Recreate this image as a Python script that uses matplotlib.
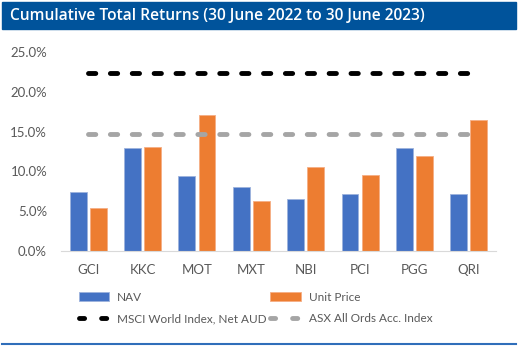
import matplotlib.pyplot as plt
import numpy as np
from matplotlib.patches import Rectangle
from matplotlib.lines import Line2D
from matplotlib.ticker import PercentFormatter

# データ
funds = ["GCI", "KKC", "MOT", "MXT", "NBI", "PCI", "PGG", "QRI"]
nav = [7.4, 12.9, 9.4, 8.1, 6.5, 7.1, 12.9, 7.2]
unit_price = [5.4, 13.1, 17.1, 6.3, 10.5, 9.6, 11.9, 16.4]
msci = 22.4
asx = 14.75
title = "Cumulative Total Returns (30 June 2022 to 30 June 2023)"

blue = "#4472C4"
orange = "#ED7D31"
grey_line = "#A5A5A5"
grey_txt = "#595959"

plt.rcParams["font.family"] = ["Lato", "DejaVu Sans"]

fig = plt.figure(figsize=(5.19, 3.48), dpi=100)
W, H = 519, 348

# タイトルバー
fig.patches.append(Rectangle((2 / W, 1 - 29 / H), 514 / W, 27 / H,
                             transform=fig.transFigure, color="#00539B", zorder=0))
fig.text(10 / W, 1 - 16 / H, title, color="white", fontsize=11.2,
         fontweight="semibold", family=["Open Sans", "DejaVu Sans"],
         va="center", ha="left")
# 下の線
fig.add_artist(Line2D([2 / W, 516 / W], [1 - 344 / H, 1 - 344 / H],
                      transform=fig.transFigure, color="#2F6EBA", lw=1.5))

ax = fig.add_axes([61 / W, 1 - 251 / H, 435 / W, 199 / H])
x = np.arange(len(funds))
bw = 0.31
b1 = ax.bar(x - 0.185, nav, bw, color=blue, edgecolor="#9DB3DD", lw=0.6, label="NAV", zorder=2)
b2 = ax.bar(x + 0.185, unit_price, bw, color=orange, edgecolor="#F5AE84", lw=0.6,
            label="Unit Price", zorder=2)
ax.plot(x, [msci] * len(funds), color="black", lw=3.5, dashes=(1.5, 3.0),
        dash_capstyle="round", zorder=3)
ax.plot(x, [asx] * len(funds), color=grey_line, lw=3.5, dashes=(1.5, 3.0),
        dash_capstyle="round", zorder=3)

ax.set_xlim(-0.5, len(funds) - 0.5)
ax.set_ylim(0, 25)
ax.set_yticks(np.arange(0, 26, 5))
ax.yaxis.set_major_formatter(PercentFormatter(decimals=1))
ax.set_xticks(x)
ax.set_xticklabels(funds)
ax.tick_params(length=0, colors=grey_txt, labelsize=9.5)
ax.tick_params(axis="x", pad=9)
ax.tick_params(axis="y", pad=10)
for s in ["top", "right", "left"]:
    ax.spines[s].set_visible(False)
ax.spines["bottom"].set_color("#D9D9D9")

# 凡例用の線 (短い破線)
p1 = Line2D([], [], color="black", lw=3.5, dashes=(1.05, 3.5), dash_capstyle="round")
p2 = Line2D([], [], color=grey_line, lw=3.5, dashes=(1.05, 3.5), dash_capstyle="round")

# 凡例 (列優先なので並べ替え)
handles = [b1, p1, b2, p2]
labels = ["NAV", "MSCI World Index, Net AUD", "Unit Price", "ASX All Ords Acc. Index"]
ax.legend(handles, labels, loc="upper left", bbox_to_anchor=(68 / W, 1 - 281 / H),
          bbox_transform=fig.transFigure, ncol=2, frameon=False,
          fontsize=8.5, handlelength=2.6, handletextpad=0.65, columnspacing=0.3,
          labelspacing=0.9, labelcolor=grey_txt)

fig.savefig("out.png", dpi=100)
